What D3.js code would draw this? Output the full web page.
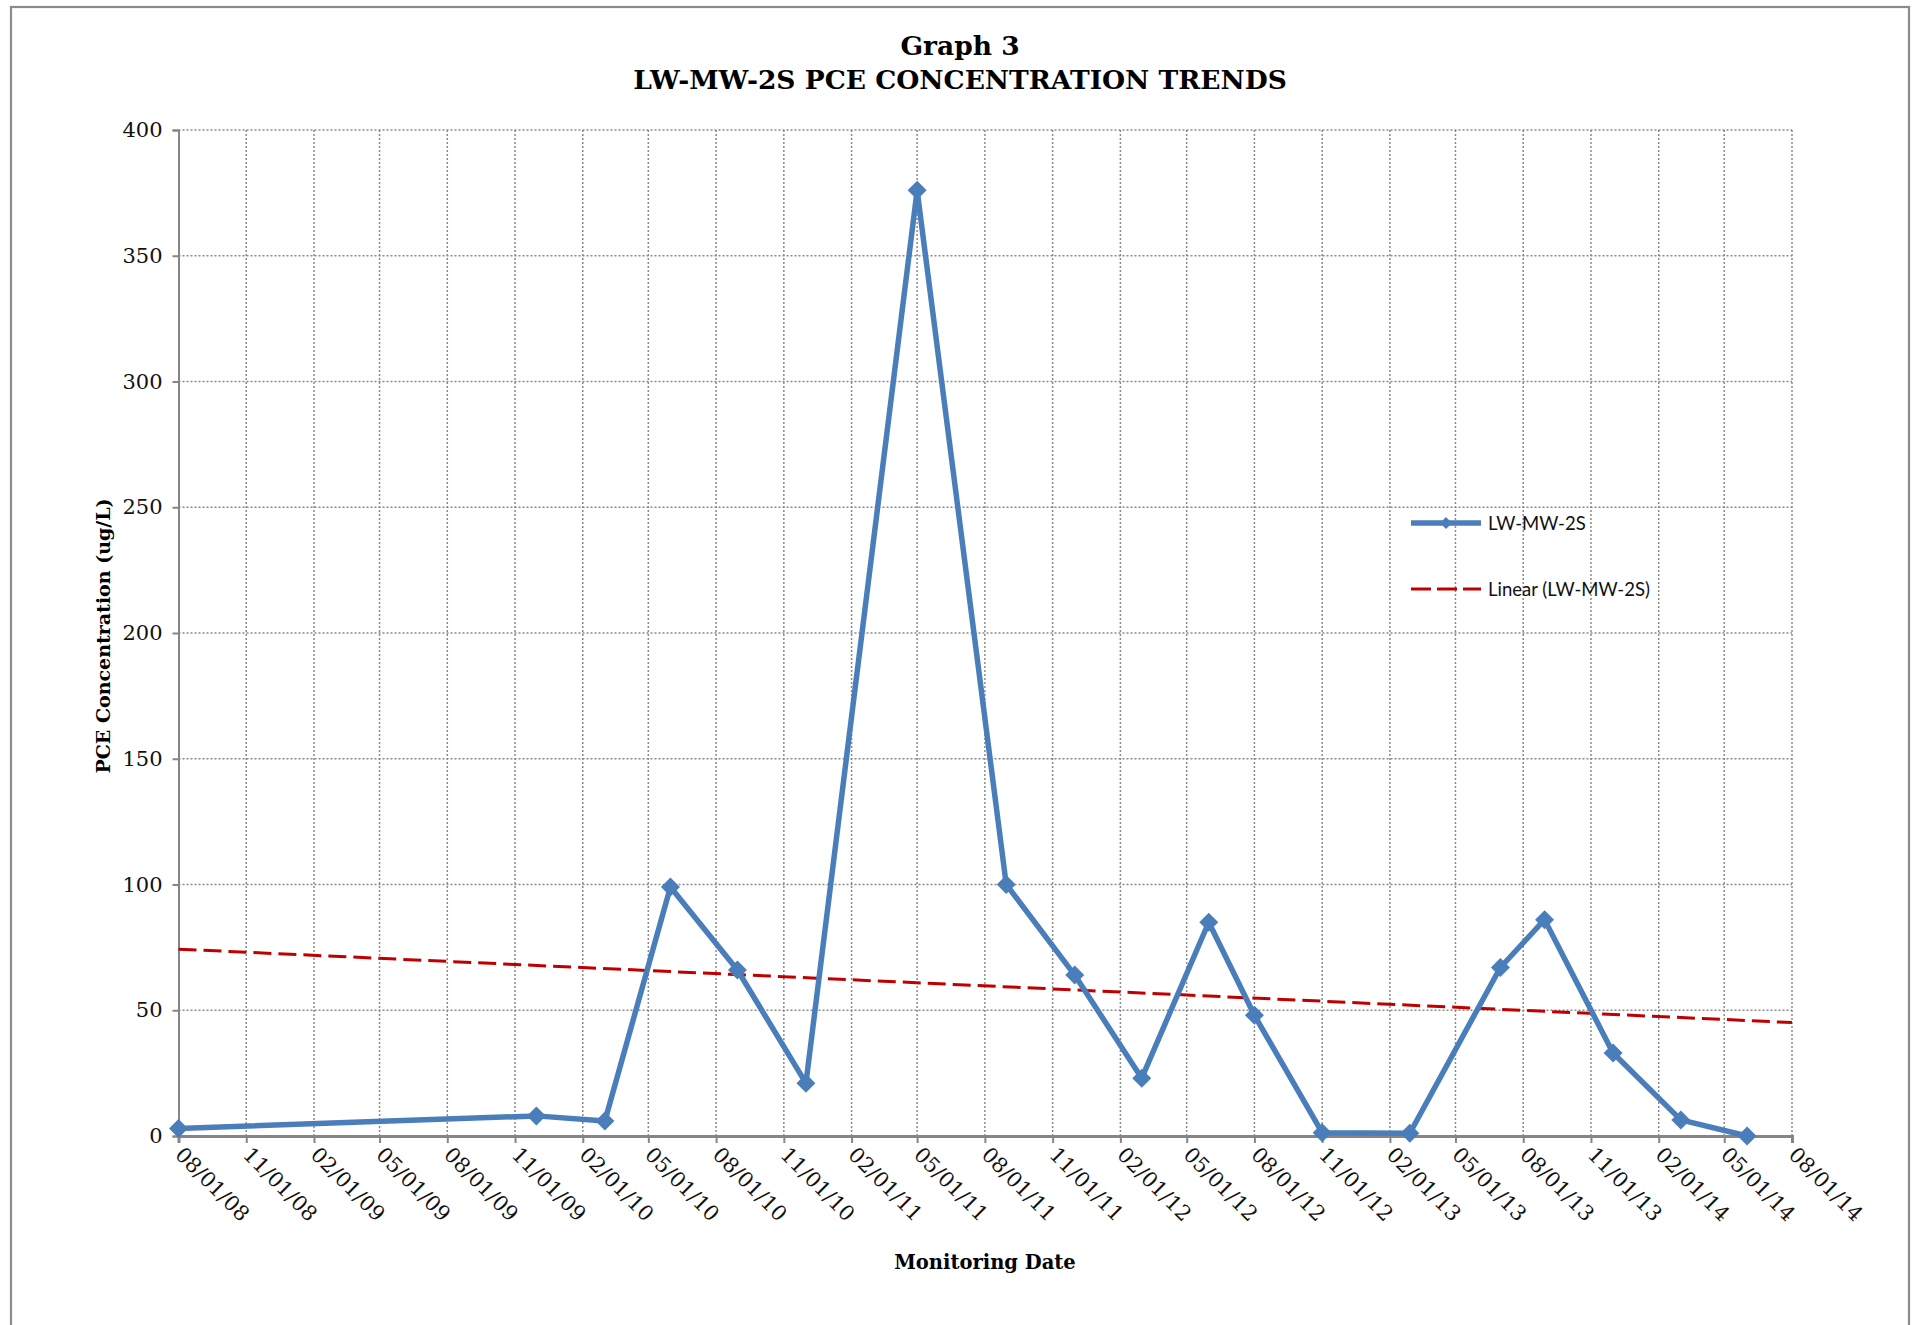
<!DOCTYPE html>
<html>
<head>
<meta charset="utf-8">
<script src="https://cdn.jsdelivr.net/npm/d3@7"></script>
<style>
  html, body { margin: 0; padding: 0; background: #fff; }
  svg { display: block; }
</style>
</head>
<body>
<svg id="chart" width="1917" height="1325"></svg>
<script>
// Sampling dates and PCE results for monitoring well LW-MW-2S
const sampleDates = [
  "2008-08-01", "2009-11-30", "2010-03-03", "2010-05-31", "2010-08-30",
  "2010-12-01", "2011-05-01", "2011-08-30", "2011-12-01", "2012-03-01",
  "2012-05-31", "2012-08-01", "2012-11-01", "2013-02-28", "2013-07-01",
  "2013-08-30", "2013-12-01", "2014-03-03", "2014-06-01"
];
const pceValues = [
  3, 8, 6, 99, 66,
  21, 376, 100, 64, 23,
  85, 48, 1.3, 1.1, 67,
  86, 33, 6.4, 0
];

// Axis ticks: quarterly date marks and concentration steps
const dateTicks = [
  "2008-08-01", "2008-11-01", "2009-02-01", "2009-05-01", "2009-08-01",
  "2009-11-01", "2010-02-01", "2010-05-01", "2010-08-01", "2010-11-01",
  "2011-02-01", "2011-05-01", "2011-08-01", "2011-11-01", "2012-02-01",
  "2012-05-01", "2012-08-01", "2012-11-01", "2013-02-01", "2013-05-01",
  "2013-08-01", "2013-11-01", "2014-02-01", "2014-05-01", "2014-08-01"
];
const valueTicks = [0, 50, 100, 150, 200, 250, 300, 350, 400];

const seriesName = "LW-MW-2S";
const trendName = "Linear (LW-MW-2S)";
const titleLines = ["Graph 3", "LW-MW-2S PCE CONCENTRATION TRENDS"];
const yTitle = "PCE Concentration (ug/L)";
const xTitle = "Monitoring Date";

const parse = d3.utcParse("%Y-%m-%d");
const fmt = d3.utcFormat("%m/%d/%y");
const points = sampleDates.map((d, i) => ({ date: parse(d), value: pceValues[i] }));
const tickDates = dateTicks.map(parse);

const svg = d3.select("#chart");
const blue = "#4A7EBB";
const red = "#C00000";
const gridGrey = "#8a8a8a";
const axisGrey = "#868686";
const serif = "'DejaVu Serif', serif";

// outer frame
svg.append("rect")
  .attr("x", 11).attr("y", 7)
  .attr("width", 1898).attr("height", 1340)
  .attr("fill", "#fff").attr("stroke", "#8c8c8c").attr("stroke-width", 2.2);

const plot = { left: 178.5, right: 1792, top: 130, bottom: 1136 };

const x = d3.scaleUtc()
  .domain([tickDates[0], tickDates[tickDates.length - 1]])
  .range([plot.left, plot.right]);
const y = d3.scaleLinear().domain([0, 400]).range([plot.bottom, plot.top]);

// titles
svg.append("text")
  .attr("x", 960).attr("y", 55)
  .attr("text-anchor", "middle")
  .style("font-family", serif).style("font-weight", "bold").style("font-size", "26.5px")
  .text(titleLines[0]);
svg.append("text")
  .attr("x", 960).attr("y", 89)
  .attr("text-anchor", "middle")
  .style("font-family", serif).style("font-weight", "bold").style("font-size", "26.5px")
  .text(titleLines[1]);

// gridlines
const grid = svg.append("g");
grid.selectAll("line.h").data(valueTicks.filter(v => v > 0)).join("line")
  .attr("x1", plot.left).attr("x2", plot.right)
  .attr("y1", d => y(d)).attr("y2", d => y(d))
  .attr("stroke", gridGrey).attr("stroke-width", 1.5).attr("stroke-dasharray", "2,2");
grid.selectAll("line.v").data(tickDates.slice(1)).join("line")
  .attr("x1", d => x(d)).attr("x2", d => x(d))
  .attr("y1", plot.top).attr("y2", plot.bottom)
  .attr("stroke", gridGrey).attr("stroke-width", 1.5).attr("stroke-dasharray", "2,2");

// y axis
const yAxis = svg.append("g")
  .attr("transform", `translate(${plot.left},0)`)
  .call(d3.axisLeft(y).tickValues(valueTicks).tickSize(6).tickPadding(10).tickFormat(d3.format("d")));
yAxis.select(".domain").attr("stroke", axisGrey).attr("stroke-width", 2);
yAxis.selectAll(".tick line").attr("stroke", axisGrey).attr("stroke-width", 2);
yAxis.selectAll(".tick text")
  .style("font-family", serif).style("font-size", "21px").attr("fill", "#111");

// x axis
const xAxis = svg.append("g")
  .attr("transform", `translate(0,${plot.bottom})`)
  .call(d3.axisBottom(x).tickValues(tickDates).tickSize(7).tickFormat(fmt));
xAxis.select(".domain").attr("stroke", axisGrey).attr("stroke-width", 3);
xAxis.selectAll(".tick line").attr("stroke", axisGrey).attr("stroke-width", 2);
xAxis.selectAll(".tick text")
  .style("font-family", serif).style("font-size", "21px").attr("fill", "#111")
  .attr("text-anchor", "start")
  .attr("dy", null).attr("y", 0)
  .attr("transform", "translate(-5,20) rotate(45)");

// axis titles
svg.append("text")
  .attr("transform", "translate(110,636) rotate(-90)")
  .attr("text-anchor", "middle")
  .style("font-family", serif).style("font-weight", "bold").style("font-size", "19px")
  .text(yTitle);
svg.append("text")
  .attr("x", 985).attr("y", 1269)
  .attr("text-anchor", "middle")
  .style("font-family", serif).style("font-weight", "bold").style("font-size", "19.5px")
  .text(xTitle);

// least-squares trend of concentration against date
const xs = points.map(p => +p.date), ys = points.map(p => p.value);
const mx = d3.mean(xs), my = d3.mean(ys);
const slope = d3.sum(xs, (v, i) => (v - mx) * (ys[i] - my)) / d3.sum(xs, v => (v - mx) * (v - mx));
const intercept = my - slope * mx;
const trendEnds = [x.domain()[0], x.domain()[1]].map(d => ({ date: d, value: intercept + slope * (+d) }));

svg.append("path")
  .datum(trendEnds)
  .attr("d", d3.line().x(d => x(d.date)).y(d => y(d.value)))
  .attr("fill", "none").attr("stroke", red).attr("stroke-width", 3)
  .attr("stroke-dasharray", "18,7");

// data series
svg.append("path")
  .datum(points)
  .attr("d", d3.line().x(d => x(d.date)).y(d => y(d.value)))
  .attr("fill", "none").attr("stroke", blue).attr("stroke-width", 5.5)
  .attr("stroke-linejoin", "round");

const diamond = r => `M0,${-r}L${r},0L0,${r}L${-r},0Z`;
svg.append("g").selectAll("path").data(points).join("path")
  .attr("transform", d => `translate(${x(d.date)},${y(d.value)})`)
  .attr("d", diamond(9.5))
  .attr("fill", blue);

// legend
const legend = svg.append("g").style("font-family", "Lato, 'Open Sans', sans-serif").style("font-size", "18.5px");
legend.append("line")
  .attr("x1", 1411).attr("x2", 1481).attr("y1", 523).attr("y2", 523)
  .attr("stroke", blue).attr("stroke-width", 5.5);
legend.append("path")
  .attr("transform", "translate(1446,523)")
  .attr("d", diamond(6)).attr("fill", blue);
legend.append("text").attr("x", 1488).attr("y", 529.5).attr("fill", "#111").text(seriesName);
legend.append("line")
  .attr("x1", 1411).attr("x2", 1481).attr("y1", 589).attr("y2", 589)
  .attr("stroke", red).attr("stroke-width", 3).attr("stroke-dasharray", "20,6");
legend.append("text").attr("x", 1488).attr("y", 595.5).attr("fill", "#111").text(trendName);
</script>
</body>
</html>
